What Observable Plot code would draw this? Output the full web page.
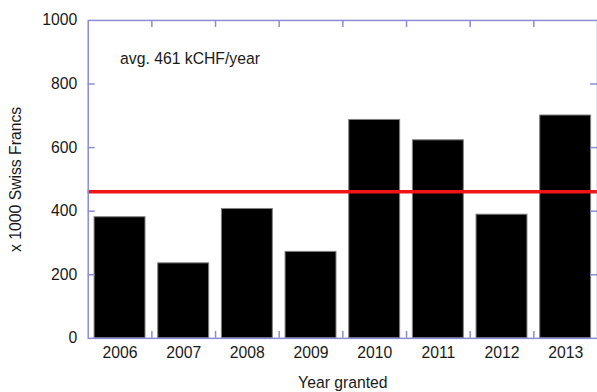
<!DOCTYPE html>
<html><head><meta charset="utf-8">
<style>html,body{margin:0;padding:0;background:#fff;overflow:hidden}</style>
<script src="https://cdn.jsdelivr.net/npm/d3@7"></script>
<script src="https://cdn.jsdelivr.net/npm/@observablehq/plot@0.6"></script>
</head><body><div id="chart"></div>
<script>
const years = [2006, 2007, 2008, 2009, 2010, 2011, 2012, 2013];
const values = [381, 236, 407, 272, 687, 623, 389, 701];
const average = 461;
const annotation = "avg. 461 kCHF/year";
const yTicks = [0, 200, 400, 600, 800, 1000];
const yInnerTicks = [200, 400, 600, 800];
const xLabel = "Year granted";
const yLabel = "x 1000 Swiss Francs";

const data = years.map((year, i) => ({year, value: values[i]}));
const boundaries = years.slice(0, -1).map(y => y + 0.5);
const frameColor = "#8c8cd6";

const W = 599, H = 392, mL = 88, mR = 0, mT = 20, mB = 53, tick = 7;
const plotW = W - mL - mR, plotH = H - mT - mB;

const chart = Plot.plot({
  width: W, height: H,
  marginLeft: mL, marginRight: mR, marginTop: mT, marginBottom: mB,
  style: {fontFamily: "'Liberation Sans', Arial, sans-serif", fontSize: "15.8px", color: "#1a1a1a", background: "#fff"},
  x: {domain: [years[0] - 0.5, years[years.length - 1] + 0.5]},
  y: {domain: [0, 1000]},
  marks: [
    Plot.rectY(data, {x1: d => d.year - 0.4, x2: d => d.year + 0.4, y: "value", fill: "#000", stroke: "#808080", strokeWidth: 1}),
    Plot.ruleY([average], {stroke: "#f01418", strokeWidth: 3.5}),
    Plot.frame({stroke: frameColor, strokeWidth: 1.5}),
    Plot.tickX(boundaries, {x: d => d, insetTop: plotH - tick, stroke: frameColor, strokeWidth: 1.5}),
    Plot.tickX(boundaries, {x: d => d, insetBottom: plotH - tick, stroke: frameColor, strokeWidth: 1.5}),
    Plot.tickY(yInnerTicks, {y: d => d, insetRight: plotW - tick, stroke: frameColor, strokeWidth: 1.5}),
    Plot.tickY(yInnerTicks, {y: d => d, insetLeft: plotW - tick, stroke: frameColor, strokeWidth: 1.5}),
    Plot.axisX(years, {tickSize: 0, tickPadding: 8, tickFormat: d => String(d), label: xLabel, labelAnchor: "center", labelArrow: "none", labelOffset: 50}),
    Plot.axisY(yTicks, {tickSize: 0, tickPadding: 11, tickFormat: d => String(d), label: yLabel, labelAnchor: "center", labelArrow: "none", labelOffset: 79}),
    Plot.text([annotation], {x: years[0], y: 878, text: d => d, textAnchor: "start", fontSize: 15.8, fill: "#1a1a1a"})
  ]
});
document.getElementById("chart").appendChild(chart);
</script>
</body></html>
